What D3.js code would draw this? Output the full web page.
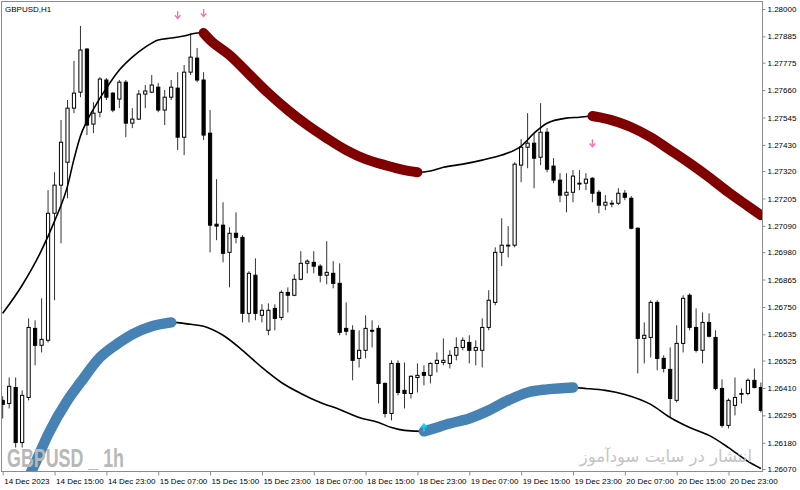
<!DOCTYPE html>
<html>
<head>
<meta charset="utf-8">
<script src="https://d3js.org/d3.v7.min.js"></script>
<style>
  html, body { margin: 0; padding: 0; background: #fff; }
  svg { display: block; font-family: "Liberation Sans", Arial, sans-serif; }
</style>
</head>
<body>
<div id="chart"></div>
<script>
// GBPUSD H1 candles, 14 Dec 07:00 .. 21 Dec 04:00 (one entry per hour)
const opens = [
  1.26358, 1.26345, 1.26412, 1.26181, 1.26370, 1.26660, 1.26589, 1.26610, 1.27143, 1.27261,
  1.27357, 1.27584, 1.27651, 1.27832, 1.27517, 1.27567, 1.27702, 1.27647, 1.27622, 1.27693,
  1.27521, 1.27538, 1.27643, 1.27651, 1.27672, 1.27576, 1.27630, 1.27668, 1.27462, 1.27735,
  1.27794, 1.27702, 1.27479, 1.27097, 1.27093, 1.26979, 1.27059, 1.27042, 1.26723, 1.26883,
  1.26715, 1.26652, 1.26744, 1.26706, 1.26811, 1.26799, 1.26866, 1.26933, 1.26937, 1.26921,
  1.26883, 1.26891, 1.26849, 1.26660, 1.26652, 1.26534, 1.26568, 1.26652, 1.26660, 1.26429,
  1.26303, 1.26513, 1.26400, 1.26387, 1.26454, 1.26475, 1.26463, 1.26513, 1.26517, 1.26513,
  1.26547, 1.26580, 1.26601, 1.26568, 1.26568, 1.26664, 1.26769, 1.26979, 1.27007, 1.27009,
  1.27345, 1.27420, 1.27437, 1.27378, 1.27483, 1.27341, 1.27282, 1.27219, 1.27231, 1.27269,
  1.27269, 1.27290, 1.27231, 1.27177, 1.27185, 1.27185, 1.27227, 1.27206, 1.27080, 1.26618,
  1.26622, 1.26769, 1.26534, 1.26488, 1.26358, 1.26597, 1.26799, 1.26664, 1.26568, 1.26685,
  1.26622, 1.26408, 1.26253, 1.26337, 1.26387, 1.26387, 1.26442, 1.26412
];
const highs = [
  1.26375, 1.26454, 1.26454, 1.26400, 1.26702, 1.26694, 1.26786, 1.27240, 1.27315, 1.27534,
  1.27618, 1.27782, 1.27929, 1.27836, 1.27609, 1.27714, 1.27710, 1.27651, 1.27702, 1.27702,
  1.27584, 1.27660, 1.27681, 1.27723, 1.27689, 1.27660, 1.27702, 1.27735, 1.27765, 1.27899,
  1.27836, 1.27735, 1.27576, 1.27286, 1.27189, 1.27084, 1.27147, 1.27051, 1.26900, 1.26954,
  1.26761, 1.26765, 1.26761, 1.26820, 1.26832, 1.26887, 1.26984, 1.26950, 1.26984, 1.26929,
  1.27026, 1.26942, 1.26933, 1.26769, 1.26673, 1.26652, 1.26715, 1.26694, 1.26673, 1.26433,
  1.26526, 1.26526, 1.26517, 1.26463, 1.26513, 1.26505, 1.26517, 1.26559, 1.26618, 1.26568,
  1.26622, 1.26622, 1.26631, 1.26610, 1.26702, 1.26820, 1.27000, 1.27122, 1.27089, 1.27357,
  1.27454, 1.27563, 1.27479, 1.27605, 1.27500, 1.27374, 1.27311, 1.27311, 1.27324, 1.27324,
  1.27311, 1.27294, 1.27240, 1.27219, 1.27198, 1.27248, 1.27240, 1.27215, 1.27084, 1.26685,
  1.26778, 1.26778, 1.26547, 1.26580, 1.26673, 1.26799, 1.26807, 1.26744, 1.26727, 1.26723,
  1.26652, 1.26446, 1.26366, 1.26454, 1.26408, 1.26450, 1.26492, 1.26433
];
const lows = [
  1.26282, 1.26324, 1.26160, 1.26160, 1.26358, 1.26505, 1.26559, 1.26601, 1.26778, 1.27017,
  1.27206, 1.27563, 1.27630, 1.27471, 1.27479, 1.27546, 1.27618, 1.27567, 1.27584, 1.27462,
  1.27500, 1.27534, 1.27584, 1.27647, 1.27567, 1.27513, 1.27618, 1.27408, 1.27387, 1.27723,
  1.27693, 1.27450, 1.26979, 1.27030, 1.26937, 1.26832, 1.27017, 1.26685, 1.26685, 1.26694,
  1.26685, 1.26631, 1.26652, 1.26694, 1.26727, 1.26795, 1.26862, 1.26891, 1.26891, 1.26853,
  1.26845, 1.26828, 1.26631, 1.26631, 1.26442, 1.26496, 1.26534, 1.26580, 1.26345, 1.26286,
  1.26274, 1.26379, 1.26324, 1.26366, 1.26391, 1.26421, 1.26429, 1.26475, 1.26505, 1.26492,
  1.26526, 1.26568, 1.26513, 1.26505, 1.26496, 1.26652, 1.26757, 1.26921, 1.26958, 1.27000,
  1.27273, 1.27332, 1.27248, 1.27345, 1.27315, 1.27269, 1.27189, 1.27147, 1.27189, 1.27240,
  1.27240, 1.27189, 1.27143, 1.27156, 1.27168, 1.27177, 1.27198, 1.27076, 1.26471, 1.26513,
  1.26538, 1.26484, 1.26475, 1.26286, 1.26349, 1.26559, 1.26652, 1.26559, 1.26513, 1.26622,
  1.26400, 1.26244, 1.26240, 1.26295, 1.26345, 1.26379, 1.26408, 1.26307
];
const closes = [
  1.26341, 1.26417, 1.26181, 1.26379, 1.26664, 1.26589, 1.26614, 1.27143, 1.27261, 1.27441,
  1.27584, 1.27647, 1.27828, 1.27513, 1.27563, 1.27706, 1.27630, 1.27576, 1.27693, 1.27521,
  1.27538, 1.27643, 1.27656, 1.27681, 1.27576, 1.27630, 1.27672, 1.27462, 1.27735, 1.27798,
  1.27702, 1.27471, 1.27093, 1.27089, 1.26975, 1.27059, 1.27042, 1.26723, 1.26891, 1.26723,
  1.26736, 1.26736, 1.26702, 1.26811, 1.26799, 1.26866, 1.26933, 1.26942, 1.26921, 1.26883,
  1.26895, 1.26849, 1.26643, 1.26648, 1.26526, 1.26568, 1.26660, 1.26648, 1.26429, 1.26303,
  1.26513, 1.26391, 1.26387, 1.26459, 1.26463, 1.26463, 1.26513, 1.26526, 1.26526, 1.26547,
  1.26580, 1.26610, 1.26568, 1.26580, 1.26664, 1.26778, 1.26979, 1.27009, 1.27009, 1.27349,
  1.27420, 1.27437, 1.27374, 1.27483, 1.27328, 1.27282, 1.27219, 1.27231, 1.27299, 1.27267,
  1.27286, 1.27227, 1.27177, 1.27189, 1.27183, 1.27227, 1.27210, 1.27080, 1.26618, 1.26631,
  1.26769, 1.26534, 1.26492, 1.26366, 1.26597, 1.26786, 1.26664, 1.26568, 1.26685, 1.26627,
  1.26408, 1.26253, 1.26358, 1.26370, 1.26385, 1.26442, 1.26412, 1.26316
];

// band indicator, [bar index, price]
const upperBand = [
  [0, 1.26723], [3, 1.26841], [6, 1.26988], [8, 1.27110], [10, 1.27257], [11, 1.27370],
  [12, 1.27467], [13, 1.27530], [14, 1.27580], [16, 1.27668], [18, 1.27744], [20, 1.27798],
  [22, 1.27840], [24, 1.27870], [26, 1.27878], [28, 1.27887], [30, 1.27899], [31, 1.27899],
  [32, 1.27870], [35, 1.27807], [38, 1.27727], [41, 1.27647], [44, 1.27576], [47, 1.27513],
  [50, 1.27458], [53, 1.27408], [56, 1.27370], [59, 1.27345], [62, 1.27324], [64, 1.27315],
  [66, 1.27320], [68, 1.27336], [71, 1.27349], [74, 1.27366], [77, 1.27387], [79, 1.27408],
  [80, 1.27425], [82, 1.27479], [84, 1.27521], [87, 1.27542], [89, 1.27546], [91, 1.27551],
  [92, 1.27546], [95, 1.27525], [97, 1.27504], [100, 1.27462], [103, 1.27408], [106, 1.27353],
  [109, 1.27294], [112, 1.27231], [115, 1.27173], [117, 1.27135]
];
const lowerBand = [
  [3, 1.25980], [5, 1.26093], [7, 1.26215], [10, 1.26358], [12, 1.26433], [15, 1.26538],
  [18, 1.26601], [20, 1.26635], [23, 1.26669], [26, 1.26685], [29, 1.26677], [31, 1.26669],
  [34, 1.26631], [37, 1.26568], [40, 1.26496], [43, 1.26433], [46, 1.26387], [49, 1.26349],
  [52, 1.26320], [55, 1.26286], [58, 1.26265], [60, 1.26244], [62, 1.26232], [65, 1.26228],
  [66, 1.26236], [69, 1.26261], [72, 1.26282], [75, 1.26316], [78, 1.26358], [81, 1.26391],
  [84, 1.26404], [88, 1.26412], [90, 1.26408], [93, 1.26400], [96, 1.26383], [100, 1.26341],
  [103, 1.26286], [106, 1.26244], [109, 1.26211], [112, 1.26160], [115, 1.26102], [117, 1.26072]
];

// signal arrows [bar index, price]
const sellArrows = [[27, 1.27975], [31, 1.27983], [91, 1.27437]];
const buyArrows = [[65, 1.26244]];

const timeTickBars = [0, 8, 16, 24, 32, 40, 48, 56, 64, 72, 80, 88, 96, 104, 112];
const timeLabels = ['14 Dec 2023', '14 Dec 15:00', '14 Dec 23:00', '15 Dec 07:00', '15 Dec 15:00',
  '15 Dec 23:00', '18 Dec 07:00', '18 Dec 15:00', '18 Dec 23:00', '19 Dec 07:00', '19 Dec 15:00',
  '19 Dec 23:00', '20 Dec 07:00', '20 Dec 15:00', '20 Dec 23:00'];
const priceLabels = ['1.28000', '1.27885', '1.27775', '1.27660', '1.27545', '1.27430', '1.27320',
  '1.27205', '1.27090', '1.26980', '1.26865', '1.26750', '1.26635', '1.26525', '1.26410',
  '1.26295', '1.26180', '1.26070'];

const width = 800, height = 490;
const plot = {left: 1.5, top: 1.5, right: 762.5, bottom: 471.5};

const svg = d3.select('#chart').append('svg')
    .attr('width', width)
    .attr('height', height);

const x = d3.scaleLinear().domain([0, opens.length - 1]).range([2.7, 760.9]);
const y = d3.scaleLinear()
    .domain(d3.extent(priceLabels.map(Number)))
    .range([469, 9]);

svg.append('clipPath').attr('id', 'plot-clip')
    .append('rect')
    .attr('x', plot.left).attr('y', plot.top)
    .attr('width', plot.right - plot.left).attr('height', plot.bottom - plot.top);

const area = svg.append('g').attr('clip-path', 'url(#plot-clip)');

// candles
const candles = opens.map((o, i) => ({i: i, o: o, h: highs[i], l: lows[i], c: closes[i]}));

area.append('g').selectAll('line')
    .data(candles)
    .join('line')
    .attr('x1', d => x(d.i)).attr('x2', d => x(d.i))
    .attr('y1', d => y(d.h)).attr('y2', d => y(d.l))
    .attr('stroke', '#333')
    .attr('stroke-width', 1);

area.append('g').selectAll('rect')
    .data(candles)
    .join('rect')
    .attr('x', d => x(d.i) - 1.6)
    .attr('width', 3.2)
    .attr('y', d => y(Math.max(d.o, d.c)))
    .attr('height', d => Math.max(0.8, Math.abs(y(d.o) - y(d.c))))
    .attr('fill', d => d.c >= d.o ? '#fff' : '#000')
    .attr('stroke', '#000')
    .attr('stroke-width', 1);

// bands
const line = d3.line()
    .x(d => x(d[0]))
    .y(d => y(d[1]))
    .curve(d3.curveMonotoneX);

// pieces where the band moves in the given direction
function runs(points, keep) {
  const out = [];
  let cur = null;
  for (let k = 1; k < points.length; k++) {
    if (keep(points[k - 1][1], points[k][1])) {
      if (!cur) { cur = [points[k - 1]]; out.push(cur); }
      cur.push(points[k]);
    } else {
      cur = null;
    }
  }
  return out;
}

[upperBand, lowerBand].forEach(band => {
  area.append('path')
      .attr('d', line(band))
      .attr('fill', 'none')
      .attr('stroke', '#000')
      .attr('stroke-width', 1.6);
});

area.append('g').selectAll('path')
    .data(runs(upperBand, (a, b) => b < a))
    .join('path')
    .attr('d', line)
    .attr('fill', 'none')
    .attr('stroke', '#800000')
    .attr('stroke-width', 10)
    .attr('stroke-linecap', 'round')
    .attr('stroke-linejoin', 'round');

area.append('g').selectAll('path')
    .data(runs(lowerBand, (a, b) => b > a))
    .join('path')
    .attr('d', line)
    .attr('fill', 'none')
    .attr('stroke', '#4682b4')
    .attr('stroke-width', 10.5)
    .attr('stroke-linecap', 'round')
    .attr('stroke-linejoin', 'round');

// arrows
area.append('g').selectAll('path')
    .data(sellArrows)
    .join('path')
    .attr('transform', d => `translate(${x(d[0])},${y(d[1])})`)
    .attr('d', 'M0,-4V3M-2.8,0.3L0,3.4L2.8,0.3')
    .attr('fill', 'none')
    .attr('stroke', '#ff6eb4')
    .attr('stroke-width', 1.4);

area.append('g').selectAll('path')
    .data(buyArrows)
    .join('path')
    .attr('transform', d => `translate(${x(d[0])},${y(d[1])})`)
    .attr('d', 'M0,4V-3M-2.8,-0.3L0,-3.4L2.8,-0.3')
    .attr('fill', 'none')
    .attr('stroke', '#00e0ff')
    .attr('stroke-width', 1.6);

// watermarks
svg.append('text')
    .attr('x', 7).attr('y', 467)
    .attr('font-size', 26)
    .attr('font-weight', 'bold')
    .attr('fill', '#b8b8b8')
    .attr('textLength', 117)
    .attr('lengthAdjust', 'spacingAndGlyphs')
    .text('GBPUSD _ 1h');

svg.append('text')
    .attr('x', 752).attr('y', 462)
    .attr('text-anchor', 'end')
    .attr('font-family', '"DejaVu Sans", sans-serif')
    .attr('font-size', 16.5)
    .attr('fill', '#c4c4c4')
    .text('انتشار در سایت سودآموز');

// frame
svg.append('rect')
    .attr('x', plot.left).attr('y', plot.top)
    .attr('width', plot.right - plot.left).attr('height', plot.bottom - plot.top)
    .attr('fill', 'none')
    .attr('stroke', '#8c8c8c');

// axes
const yAxis = svg.append('g')
    .attr('transform', `translate(${plot.right},0)`)
    .call(d3.axisRight(y)
      .tickValues(priceLabels.map(Number))
      .tickFormat((d, i) => priceLabels[i])
      .tickSize(3)
      .tickPadding(2));

const xAxis = svg.append('g')
    .attr('transform', `translate(0,${plot.bottom})`)
    .call(d3.axisBottom(x)
      .tickValues(timeTickBars)
      .tickFormat((d, i) => timeLabels[i])
      .tickSize(4)
      .tickPadding(3));

xAxis.selectAll('text').attr('text-anchor', 'start').attr('dx', 1);

[xAxis, yAxis].forEach(g => {
  g.select('.domain').remove();
  g.selectAll('line').attr('stroke', '#8c8c8c');
  g.selectAll('text')
      .attr('fill', '#000')
      .attr('font-family', '"Liberation Sans", Arial, sans-serif')
      .attr('font-size', 8);
});

svg.append('text')
    .attr('x', 5).attr('y', 12)
    .attr('font-size', 8)
    .attr('fill', '#000')
    .text('GBPUSD,H1');
</script>
</body>
</html>
